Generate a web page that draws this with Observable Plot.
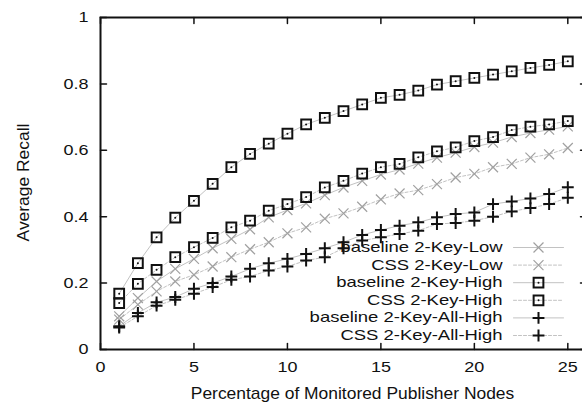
<!DOCTYPE html>
<html><head><meta charset="utf-8">
<script src="https://cdn.jsdelivr.net/npm/d3@7"></script>
<script src="https://cdn.jsdelivr.net/npm/@observablehq/plot@0.6"></script>
<style>body{margin:0;background:#fff}</style>
</head><body><div id="chart"></div>
<script>
const pct = [1,2,3,4,5,6,7,8,9,10,11,12,13,14,15,16,17,18,19,20,21,22,23,24,25];
const baselineLow = [0.10,0.155,0.205,0.243,0.273,0.305,0.333,0.362,0.398,0.42,0.44,0.465,0.488,0.508,0.527,0.542,0.56,0.578,0.593,0.61,0.623,0.64,0.652,0.662,0.672];
const cssLow = [0.09,0.135,0.175,0.205,0.225,0.25,0.278,0.302,0.323,0.35,0.368,0.394,0.41,0.43,0.452,0.47,0.48,0.498,0.518,0.529,0.549,0.559,0.578,0.588,0.607];
const baselineHigh = [0.168,0.26,0.338,0.397,0.448,0.499,0.549,0.589,0.62,0.65,0.678,0.698,0.718,0.738,0.758,0.767,0.78,0.798,0.808,0.818,0.828,0.838,0.848,0.857,0.868];
const cssHigh = [0.14,0.198,0.24,0.278,0.308,0.336,0.368,0.388,0.418,0.438,0.459,0.488,0.508,0.53,0.549,0.559,0.579,0.597,0.609,0.628,0.64,0.661,0.671,0.678,0.688];
const baselineAllHigh = [0.07,0.11,0.142,0.158,0.183,0.2,0.22,0.243,0.26,0.273,0.288,0.305,0.323,0.345,0.36,0.373,0.383,0.398,0.408,0.413,0.438,0.446,0.455,0.468,0.489];
const cssAllHigh = [0.066,0.1,0.132,0.15,0.168,0.188,0.21,0.22,0.238,0.25,0.268,0.278,0.305,0.328,0.338,0.348,0.358,0.378,0.381,0.388,0.4,0.416,0.426,0.438,0.457];
const seriesNames = ["baseline 2-Key-Low","CSS 2-Key-Low","baseline 2-Key-High","CSS 2-Key-High","baseline 2-Key-All-High","CSS 2-Key-All-High"];
const xDomain = [0, 26];
const yDomain = [0, 1];
const xTicks = [0,5,10,15,20,25];
const xTickLabels = ["0","5","10","15","20","25"];
const yTicks = [0,0.2,0.4,0.6,0.8,1];
const yTickLabels = ["0","0.2","0.4","0.6","0.8","1"];
const xTitle = "Percentage of Monitored Publisher Nodes";
const yTitle = "Average Recall";

const seriesValues = [baselineLow, cssLow, baselineHigh, cssHigh, baselineAllHigh, cssAllHigh];
const markerKind = ["times","times","square","square","plus","plus"];
const dashed = [false,true,false,true,false,true];
const tables = seriesValues.map(vals => pct.map((x, i) => ({x, y: vals[i]})));

const tickShape = {draw(ctx, l) { ctx.moveTo(0, 0); ctx.lineTo(0, -l); }};
const FONT = "Liberation Sans, Arial, Helvetica, sans-serif";
const lineColor = "#c2c2c2";

function markerMarks(data, kind, opts) {
  if (kind === "times") return [Plot.dot(data, {...opts, symbol: "times", r: 4.6, stroke: "#a0a0a0", strokeWidth: 1.2})];
  if (kind === "square") return [
    Plot.dot(data, {...opts, symbol: "square", r: 5.5, stroke: "#111", strokeWidth: 2, fill: "none"}),
    Plot.dot(data, {...opts, r: 1, fill: "#111", stroke: "none"})
  ];
  return [Plot.dot(data, {...opts, symbol: "plus", r: 3.9, stroke: "#111", strokeWidth: 2})];
}

const marks = [];
marks.push(Plot.vector(xTicks, {x: d => d, y: yDomain[0], length: 6, rotate: 0, anchor: "start", shape: tickShape, stroke: "#111", strokeWidth: 1.5}));
marks.push(Plot.vector(xTicks, {x: d => d, y: yDomain[1], length: 6, rotate: 180, anchor: "start", shape: tickShape, stroke: "#111", strokeWidth: 1.5}));
marks.push(Plot.vector(yTicks, {y: d => d, x: xDomain[0], length: 6, rotate: 90, anchor: "start", shape: tickShape, stroke: "#111", strokeWidth: 1.5}));
marks.push(Plot.vector(yTicks, {y: d => d, x: xDomain[1], length: 6, rotate: -90, anchor: "start", shape: tickShape, stroke: "#111", strokeWidth: 1.5}));

tables.forEach((t, k) => marks.push(Plot.line(t, {x: "x", y: "y", stroke: lineColor, strokeWidth: 1, strokeDasharray: dashed[k] ? "3,2" : null})));
tables.forEach((t, k) => marks.push(...markerMarks(t, markerKind[k], {x: "x", y: "y"})));

const rowStep = 17.6, lastRowDy = -14;
seriesNames.forEach((name, i) => {
  const dy = lastRowDy - (seriesNames.length - 1 - i) * rowStep;
  marks.push(Plot.text([name], {frameAnchor: "bottom-right", text: d => d, dx: -84, dy, textAnchor: "end", lineAnchor: "middle", fontSize: 14, fill: "#111"}));
  marks.push(Plot.vector([name], {frameAnchor: "bottom-right", dx: -73, dy, length: 50, rotate: 90, anchor: "start", shape: tickShape, stroke: lineColor, strokeWidth: 1, strokeDasharray: dashed[i] ? "3,2" : null}));
  marks.push(...markerMarks([name], markerKind[i], {frameAnchor: "bottom-right", dx: -48, dy}));
});

marks.push(Plot.frame({stroke: "#111", strokeWidth: 2}));
marks.push(Plot.axisX(xTicks, {tickSize: 0, tickPadding: 12, tickFormat: (d, i) => xTickLabels[i], fontSize: 15, fill: "#111", label: null}));
marks.push(Plot.axisY(yTicks, {tickSize: 0, tickPadding: 12, tickFormat: (d, i) => yTickLabels[i], fontSize: 15, fill: "#111", label: null}));
marks.push(Plot.text([xTitle], {frameAnchor: "bottom", text: d => d, dx: 9, dy: 44, textAnchor: "middle", lineAnchor: "middle", fontSize: 16, fill: "#111"}));
marks.push(Plot.text([yTitle], {frameAnchor: "left", text: d => d, dx: -77, dy: -1, rotate: -90, textAnchor: "middle", lineAnchor: "middle", fontSize: 16, fill: "#111"}));

const svg = Plot.plot({
  width: 582, height: 404,
  marginLeft: 100, marginRight: -4, marginTop: 17, marginBottom: 55,
  style: {fontFamily: FONT, background: "#fff"},
  x: {domain: xDomain, label: null},
  y: {domain: yDomain, label: null},
  marks
});

// horizontal stretch of glyphs (reference text is wide), keyed by font size
const stretchBySize = {"14": 1.32, "15": 1.2, "16": 1.09};
svg.querySelectorAll("text").forEach(t => {
  const holder = t.closest("[font-size]");
  const fs = holder ? String(parseFloat(holder.getAttribute("font-size"))) : null;
  const s = stretchBySize[fs];
  if (!s) return;
  const x = parseFloat(t.getAttribute("x")) || 0;
  const tr = t.getAttribute("transform") || "";
  t.setAttribute("transform", `${tr} translate(${x},0) scale(${s},1) translate(${-x},0)`);
});
document.getElementById("chart").appendChild(svg);
</script>
</body></html>
